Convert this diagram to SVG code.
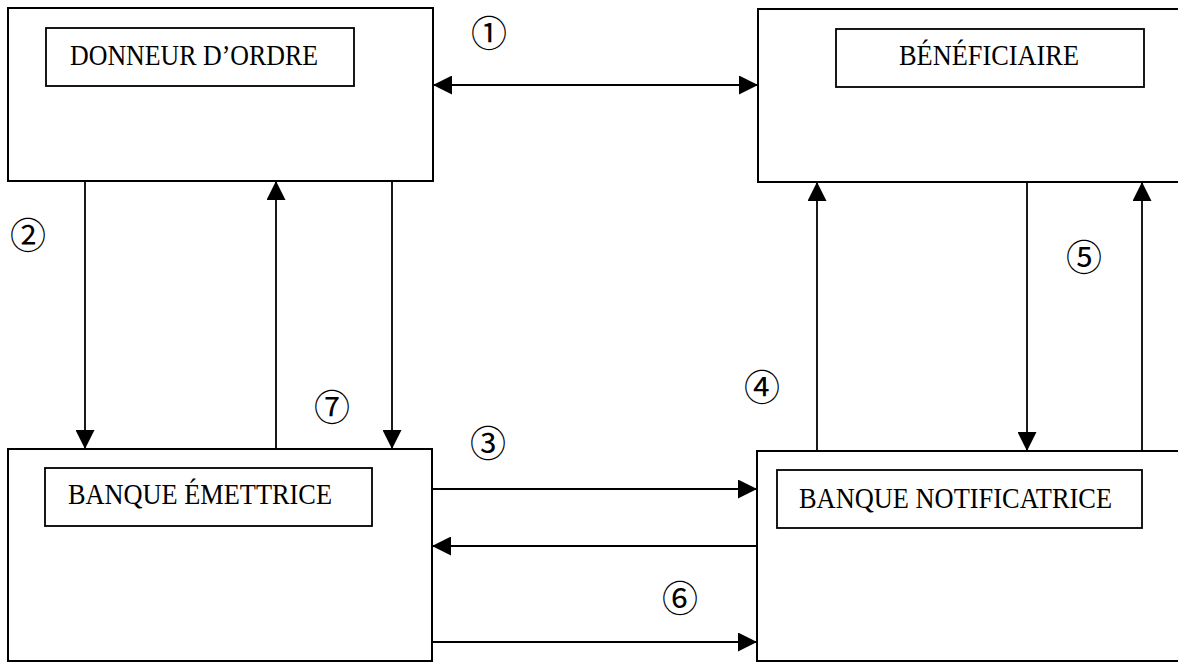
<svg xmlns="http://www.w3.org/2000/svg" width="1178" height="663" viewBox="0 0 1178 663">
<style>
.box{fill:none;stroke:#000;stroke-width:2}
.inner{fill:none;stroke:#000;stroke-width:1.8}
.lbl{font-family:"Liberation Serif","Times New Roman",serif;font-size:30px;fill:#000}
.num{font-family:"Noto Sans CJK JP","DejaVu Sans",sans-serif;font-size:36px;fill:#000;text-anchor:middle;dominant-baseline:central}
.ln{stroke:#000;stroke-width:1.8;fill:none}
</style>
<defs>
<marker id="ah" viewBox="0 0 19 19" refX="19" refY="9.5" markerWidth="19" markerHeight="19" markerUnits="userSpaceOnUse" orient="auto-start-reverse">
<path d="M0,0 L19,9.5 L0,19 Z" fill="#000"/>
</marker>
</defs>
<rect width="1178" height="663" fill="#fff"/>
<g id="donneur">
<rect class="box" x="8" y="8" width="425" height="173"/>
<rect class="inner" x="46" y="28" width="308" height="58"/>
<text class="lbl" x="70" y="65" textLength="248" lengthAdjust="spacingAndGlyphs">DONNEUR D’ORDRE</text>
</g>
<g id="beneficiaire">
<rect class="box" x="758" y="9" width="424" height="173"/>
<rect class="inner" x="836" y="29" width="308" height="58"/>
<text class="lbl" x="899" y="65" textLength="180" lengthAdjust="spacingAndGlyphs">BÉNÉFICIAIRE</text>
</g>
<g id="banque-emettrice">
<rect class="box" x="8" y="449" width="424" height="212"/>
<rect class="inner" x="45" y="468" width="327" height="58"/>
<text class="lbl" x="68" y="504" textLength="264" lengthAdjust="spacingAndGlyphs">BANQUE ÉMETTRICE</text>
</g>
<g id="banque-notificatrice">
<rect class="box" x="757" y="451" width="425" height="210"/>
<rect class="inner" x="777" y="470" width="365" height="58"/>
<text class="lbl" x="799" y="508" textLength="313" lengthAdjust="spacingAndGlyphs">BANQUE NOTIFICATRICE</text>
</g>
<g id="connectors">
<line class="ln" x1="433" y1="85" x2="758" y2="85" marker-start="url(#ah)" marker-end="url(#ah)"/>
<line class="ln" x1="85" y1="181" x2="85" y2="449" marker-end="url(#ah)"/>
<line class="ln" x1="276" y1="449" x2="276" y2="181" marker-end="url(#ah)"/>
<line class="ln" x1="392" y1="181" x2="392" y2="449" marker-end="url(#ah)"/>
<line class="ln" x1="817" y1="451" x2="817" y2="182" marker-end="url(#ah)"/>
<line class="ln" x1="1027" y1="182" x2="1027" y2="451" marker-end="url(#ah)"/>
<line class="ln" x1="1142" y1="451" x2="1142" y2="182" marker-end="url(#ah)"/>
<line class="ln" x1="432" y1="489" x2="757" y2="489" marker-end="url(#ah)"/>
<line class="ln" x1="757" y1="546" x2="432" y2="546" marker-end="url(#ah)"/>
<line class="ln" x1="432" y1="642" x2="757" y2="642" marker-end="url(#ah)"/>
</g>
<g id="labels">
<text class="num" x="489" y="31">①</text>
<text class="num" x="28" y="233">②</text>
<text class="num" x="488" y="441">③</text>
<text class="num" x="762" y="385">④</text>
<text class="num" x="1084" y="255">⑤</text>
<text class="num" x="680" y="596">⑥</text>
<text class="num" x="332" y="405">⑦</text>
</g>
</svg>
